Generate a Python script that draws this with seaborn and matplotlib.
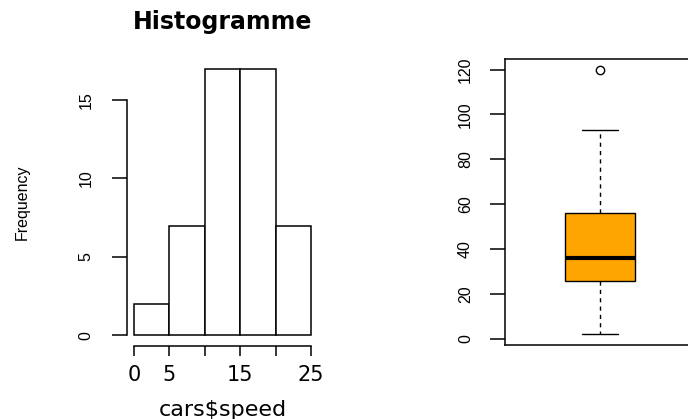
import matplotlib
matplotlib.use("Agg")
import matplotlib.pyplot as plt
import seaborn as sns
import pandas as pd

# Histogram of car speeds (bin edges and counts per bin)
speed_breaks = [0, 5, 10, 15, 20, 25]
speed_counts = [2, 7, 17, 17, 7]
speed_tick_labels = ["0", "5", "", "15", "", "25"]
freq_ticks = [0, 5, 10, 15]

# Stopping distance box plot summary
dist_whislo = 2
dist_q1 = 26
dist_median = 36
dist_q3 = 56
dist_whishi = 93
dist_outliers = [120]
dist_ticks = [0, 20, 40, 60, 80, 100, 120]

sns.set_style("ticks", {
    "axes.edgecolor": "black", "text.color": "black",
    "xtick.color": "black", "ytick.color": "black",
    "axes.labelcolor": "black",
})
plt.rcParams["font.family"] = ["DejaVu Sans"]

SIDE = ["Liberation Sans", "DejaVu Sans"]
SIDE_SIZE = 11.5

fig = plt.figure(figsize=(6.88, 4.19), dpi=100)
W, H = 688, 419
ax1 = fig.add_axes([127 / W, 1 - 346 / H, 191 / W, 288 / H])
ax2 = fig.add_axes([505 / W, 1 - 345 / H, 190 / W, 286 / H])

# ---- histogram ----
df = pd.DataFrame({"speed": speed_breaks[:-1], "n": speed_counts})
sns.histplot(data=df, x="speed", weights="n", bins=speed_breaks, ax=ax1,
             color="white", edgecolor="black", linewidth=1.1, alpha=1)
ax1.set_xlim(-1, 26)
ax1.set_ylim(-0.68, 17.68)
for s in ("top", "right"):
    ax1.spines[s].set_visible(False)
ax1.spines["left"].set_bounds(0, 15)
ax1.spines["bottom"].set_bounds(0, 25)
for s in ("left", "bottom"):
    ax1.spines[s].set_linewidth(1.1)

ax1.set_xticks(speed_breaks)
ax1.set_xticklabels(speed_tick_labels, fontsize=15)
ax1.set_yticks(freq_ticks)
ax1.set_yticklabels([str(t) for t in freq_ticks], rotation=90, va="center",
                    family=SIDE, fontsize=SIDE_SIZE)
ax1.tick_params(axis="x", length=7, width=1.1, pad=7)
ax1.tick_params(axis="y", length=11, width=1.1, pad=13)

ax1.set_xlabel("cars$speed", fontsize=16, va="center")
ax1.xaxis.set_label_coords(0.5, -0.222)
ax1.set_ylabel("Frequency", fontsize=SIDE_SIZE, family=SIDE, va="center")
ax1.yaxis.set_label_coords(-0.55, 0.5)
ax1.set_title("Histogramme", fontsize=17, fontweight="bold", y=1.125,
              va="center", pad=0)

# ---- box plot ----
stats = [dict(whislo=dist_whislo, q1=dist_q1, med=dist_median, q3=dist_q3,
              whishi=dist_whishi, fliers=dist_outliers)]
ax2.bxp(stats, positions=[1], widths=0.4, patch_artist=True,
        boxprops=dict(facecolor="#FFA500", edgecolor="black", linewidth=1),
        medianprops=dict(color="black", linewidth=3),
        whiskerprops=dict(color="black", linewidth=1, linestyle=(0, (3, 3))),
        capprops=dict(color="black", linewidth=1),
        flierprops=dict(marker="o", markerfacecolor="none",
                        markeredgecolor="black", markersize=6))
ax2.set_xlim(0.46, 1.54)
ax2.set_ylim(-2.72, 124.72)
for s in ax2.spines.values():
    s.set_visible(True)
    s.set_linewidth(1.1)
ax2.set_xticks([])
ax2.set_yticks(dist_ticks)
ax2.set_yticklabels([str(t) for t in dist_ticks], rotation=90, va="center",
                    family=SIDE, fontsize=SIDE_SIZE)
ax2.tick_params(axis="y", length=11, width=1.1, pad=12)

fig.savefig("out.png", dpi=100)
